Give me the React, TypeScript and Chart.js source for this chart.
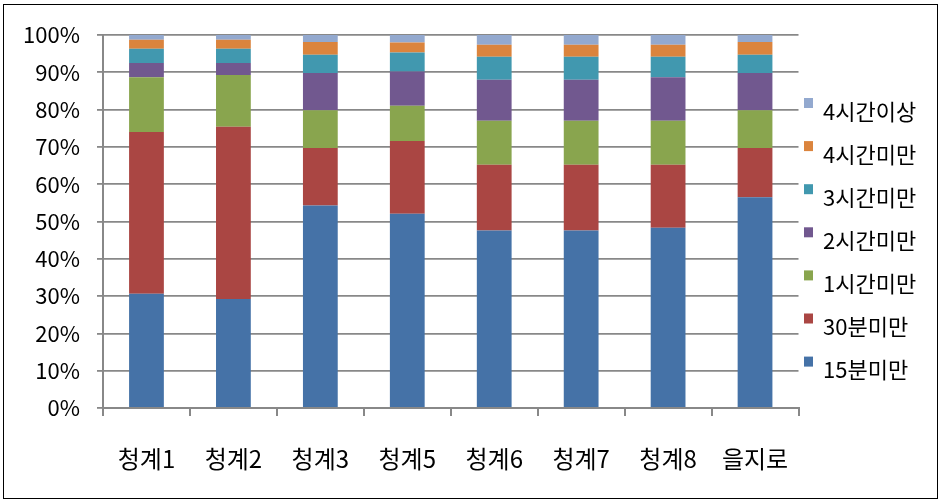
import React, { useEffect, useRef } from 'react';
import { Chart, registerables } from 'chart.js';

Chart.register(...registerables);

const categories = ['청계1', '청계2', '청계3', '청계5', '청계6', '청계7', '청계8', '을지로'];
const seriesNames = ['15분미만', '30분미만', '1시간미만', '2시간미만', '3시간미만', '4시간미만', '4시간이상'];
const under15m = [30.6, 29.2, 54.3, 52.1, 47.6, 47.6, 48.3, 56.5];
const under30m = [43.4, 46.2, 15.4, 19.5, 17.6, 17.6, 16.9, 13.2];
const under1h = [14.7, 13.9, 10.1, 9.4, 11.8, 11.8, 11.8, 10.1];
const under2h = [3.8, 3.2, 10.0, 9.2, 11.0, 11.0, 11.7, 10.0];
const under3h = [3.8, 3.8, 4.9, 5.1, 6.2, 6.2, 5.5, 4.9];
const under4h = [2.4, 2.4, 3.4, 2.7, 3.2, 3.2, 3.2, 3.4];
const over4h = [1.3, 1.3, 1.9, 2.0, 2.6, 2.6, 2.6, 1.9];
const seriesValues = [under15m, under30m, under1h, under2h, under3h, under4h, over4h];
const seriesColors = ['#4572A7', '#AA4643', '#89A54E', '#71588F', '#4198AF', '#DB843D', '#93A9CF'];
const yMin = 0;
const yMax = 100;
const yStep = 10;

const FONT = '"Noto Sans CJK KR", "Noto Sans", sans-serif';
const GRID = '#888888';

const sideLegend = {
  id: 'sideLegend',
  afterDraw(chart: any) {
    const { ctx, chartArea } = chart;
    const ds = chart.data.datasets;
    const n = ds.length;
    ctx.save();
    ctx.font = `22px ${FONT}`;
    ctx.textBaseline = 'middle';
    ctx.textAlign = 'left';
    for (let k = 0; k < n; k++) {
      const d = ds[n - 1 - k];
      const top = chartArea.top + 63 + k * 43.1;
      const x = chartArea.right + 5.5;
      ctx.fillStyle = d.backgroundColor;
      ctx.fillRect(x, top, 9, 10);
      ctx.fillStyle = '#000000';
      ctx.fillText(d.label, x + 19, top + 13.5);
    }
    ctx.restore();
  },
};

export default function App() {
  const ref = useRef<HTMLCanvasElement | null>(null);

  useEffect(() => {
    if (!ref.current) return;
    const chart = new Chart(ref.current, {
      type: 'bar',
      data: {
        labels: categories,
        datasets: seriesNames.map((name, i) => ({
          label: name,
          data: seriesValues[i],
          backgroundColor: seriesColors[i],
          borderWidth: 0,
          barPercentage: 0.4,
          categoryPercentage: 1,
        })),
      },
      options: {
        responsive: false,
        animation: false,
        layout: { padding: { top: 35, right: 140.5, bottom: 0, left: 0 } },
        plugins: {
          legend: { display: false },
          tooltip: { enabled: false },
        },
        scales: {
          x: {
            stacked: true,
            grid: {
              display: true,
              drawOnChartArea: false,
              drawTicks: true,
              tickLength: 8,
              color: GRID,
              lineWidth: 2,
              offset: true,
            },
            border: { display: true, color: GRID, width: 2 },
            ticks: {
              color: '#000000',
              font: { family: FONT, size: 24 },
              padding: 28,
              maxRotation: 0,
            },
            afterFit: (s: any) => {
              s.height = 92;
              s.paddingLeft = 0;
              s.paddingRight = 0;
            },
          },
          y: {
            stacked: true,
            min: yMin,
            max: yMax,
            grid: {
              color: GRID,
              lineWidth: 1.8,
              drawTicks: true,
              tickLength: 6,
            },
            border: { display: true, color: GRID, width: 2 },
            ticks: {
              stepSize: yStep,
              color: '#000000',
              font: { family: FONT, size: 22 },
              padding: 17,
              callback: (v: any) => `${v}%`,
            },
            afterFit: (s: any) => {
              s.width = 103;
              s.paddingTop = 0;
              s.paddingBottom = 0;
            },
          },
        },
      },
      plugins: [sideLegend],
    });
    return () => chart.destroy();
  }, []);

  return (
    <div style={{ position: 'fixed', left: 0, top: 0, width: 939, height: 500, background: '#ffffff' }}>
      <canvas ref={ref} width={939} height={500} style={{ display: 'block', width: 939, height: 500 }} />
      <div
        style={{
          position: 'absolute',
          left: 3,
          top: 4,
          width: 935,
          height: 495,
          boxSizing: 'border-box',
          border: '1.5px solid #000000',
          pointerEvents: 'none',
        }}
      />
    </div>
  );
}
